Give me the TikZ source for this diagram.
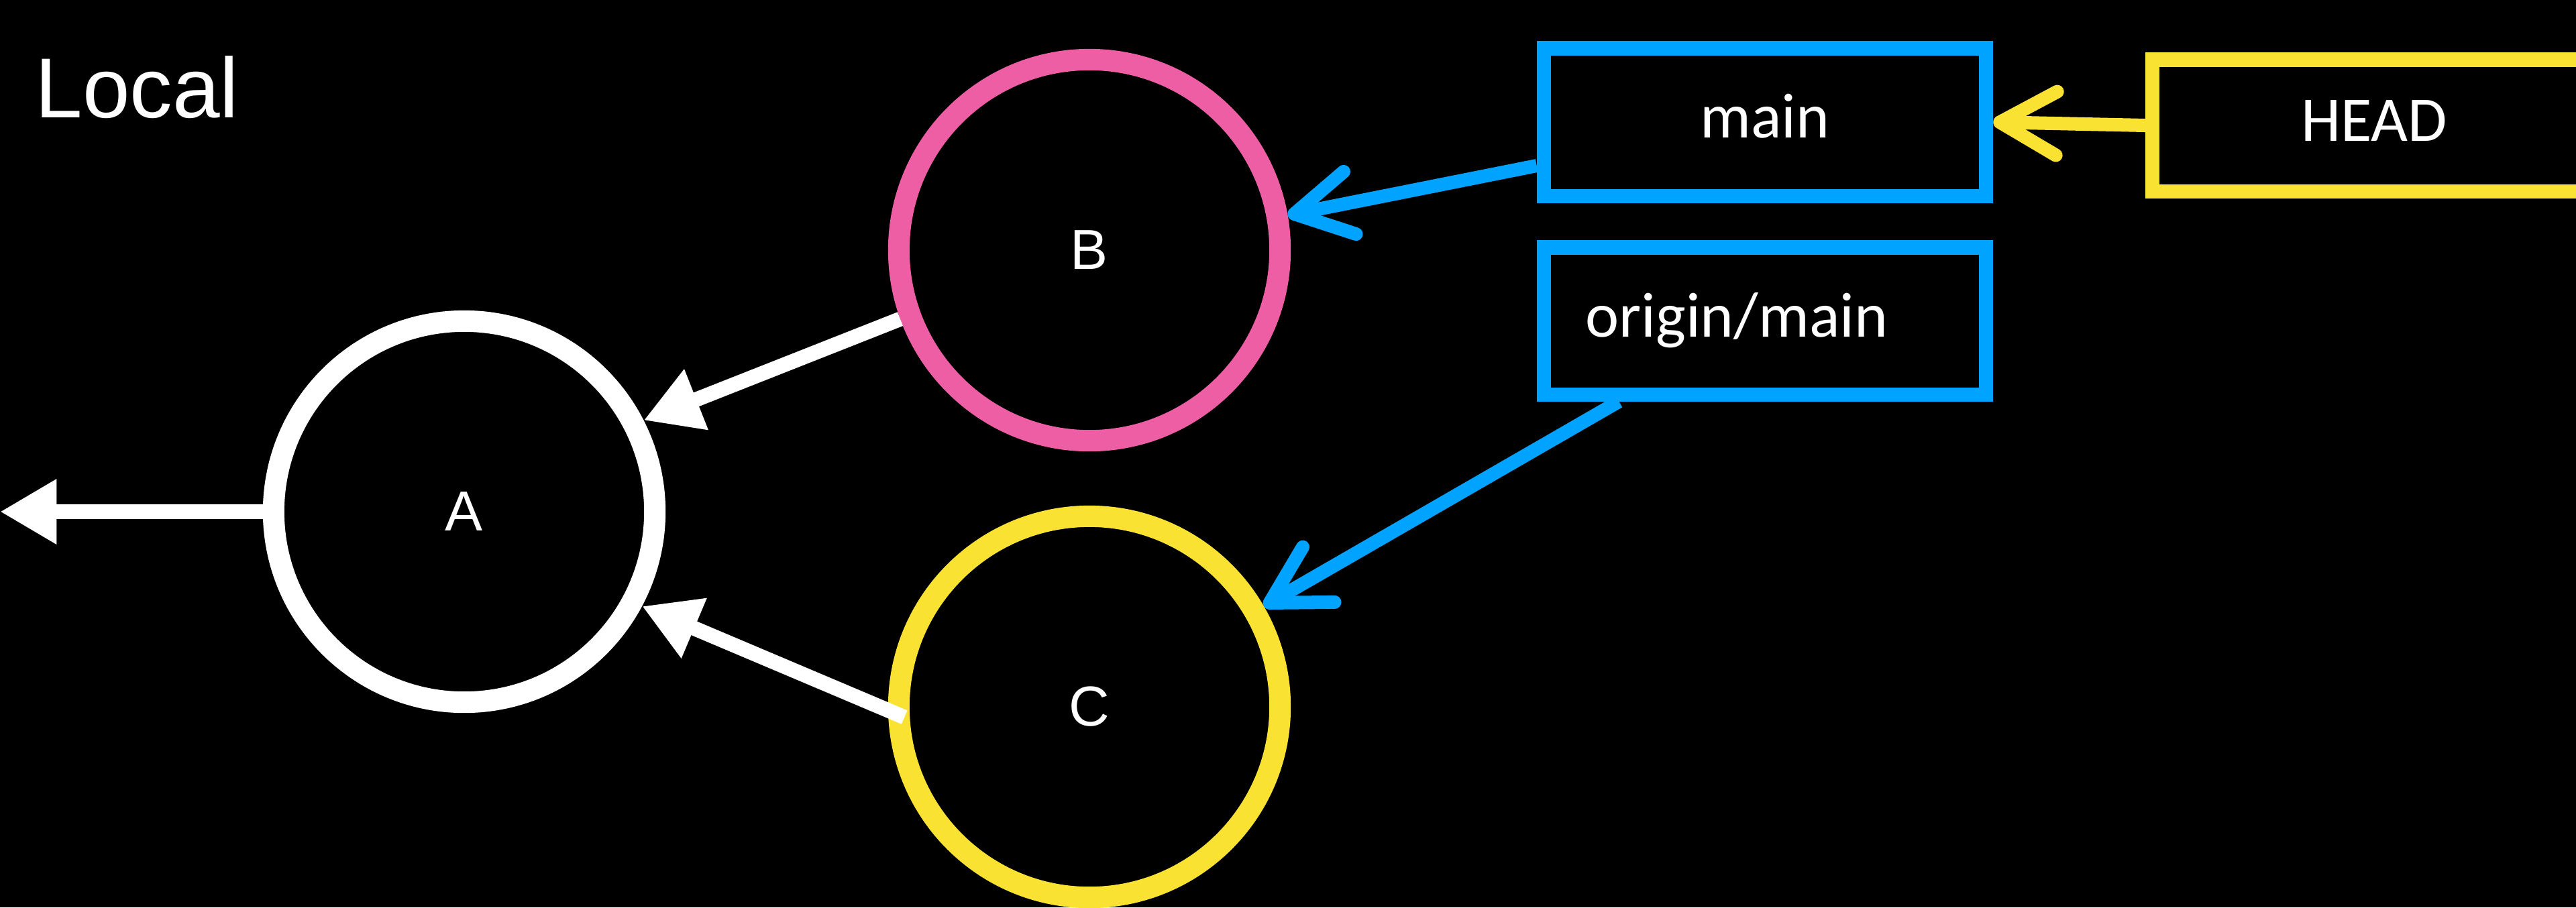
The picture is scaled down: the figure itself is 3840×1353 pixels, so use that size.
\documentclass[tikz,border=0pt]{standalone}
\usepackage{fontspec}
\setmainfont{Liberation Sans}
\newfontfamily\calfont{Carlito}
\usetikzlibrary{arrows.meta,calc}
\definecolor{pinkc}{RGB}{238,94,164}
\definecolor{yellowc}{RGB}{249,226,50}
\definecolor{bluec}{RGB}{0,163,255}
\begin{document}
\begin{tikzpicture}[x=0.01cm, y=-0.01cm,
  commit/.style={circle, draw, line width=9.1pt, minimum size=5.68cm, inner sep=0pt, text=white, font=\fontsize{23.9}{28}\selectfont},
  refbox/.style={rectangle, draw=bluec, line width=6pt, text=white, font=\calfont\fontsize{27}{32}\selectfont, inner sep=0pt, text height=18pt, text depth=4.4pt},
  whitearrow/.style={draw=white, line width=6.3pt, -{Triangle[length=24pt,width=26pt]}},
  refarrow/.style={line width=5.7pt, -{Straight Barb[length=24pt,width=27pt,round]}},
]
\fill[black] (0,0) rectangle (3840,1353);
\useasboundingbox (0,0) rectangle (3840,1353);
\clip (0,0) rectangle (3840,1353);

\node[anchor=base west, inner sep=0pt, text=white, font=\fontsize{36.1}{43}\selectfont] (local) at (52,175) {Local};

\node[commit, draw=white] (A) at (692,763) {A};
\node[commit, draw=pinkc] (B) at (1624,373) {B};
\node[commit, draw=yellowc] (C) at (1624,1054) {C};

\node[refbox, minimum width=6.59cm, minimum height=2.2cm] (main) at (2631,182) {main};
\node[refbox, text width=5.35cm, inner xsep=0.62cm, align=left, minimum height=2.19cm] (origin) at (2631,478.5) {origin/main};
\node[refbox, draw=yellowc, minimum width=6.6cm, minimum height=1.96cm] (head) at (3539,187) {HEAD};

\coordinate (leftend) at (0,763);
\draw[whitearrow] (A.west) -- (leftend);
\draw[whitearrow] (B.200) -- (A.27);
\draw[whitearrow, shorten <=-7.5pt] (C.181) -- (A.-28);
\draw[refarrow, bluec] ($(main.west)+(0,65)$) -- (B.10.7);
\draw[refarrow, bluec] ($(origin.south west)!0.18!(origin.south east)$) -- (C.30);
\draw[refarrow, yellowc] (head.west) -- (main.east);
\end{tikzpicture}
\end{document}
